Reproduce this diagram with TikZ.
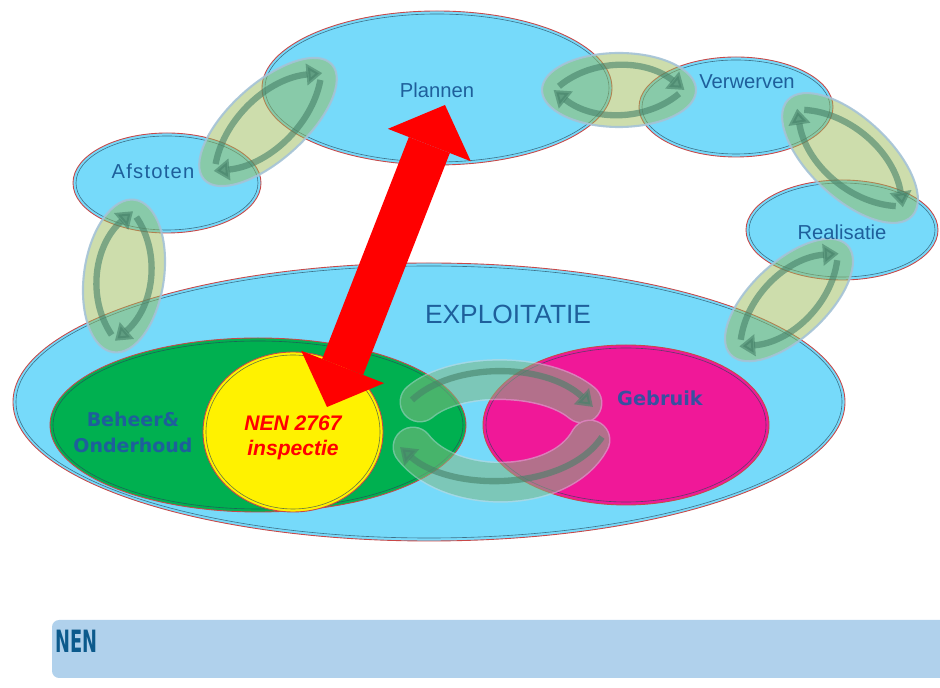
\documentclass[tikz,border=0pt]{standalone}
\usepackage{fontspec}
\usepackage{graphicx}
\setmainfont{Liberation Sans}
\newfontfamily\verdana{DejaVu Sans}
\newfontfamily\spaced{Liberation Sans}[LetterSpace=6]
\usetikzlibrary{arrows.meta}

\definecolor{sky}{RGB}{118,218,250}
\definecolor{edgered}{RGB}{200,72,72}
\definecolor{innerdark}{RGB}{40,70,90}
\definecolor{beheergreen}{RGB}{0,176,80}
\definecolor{gebruikpink}{RGB}{240,24,152}
\definecolor{labelblue}{RGB}{30,95,155}
\definecolor{gebruikblue}{RGB}{55,80,160}
\definecolor{linkgreen}{RGB}{155,187,89}
\definecolor{linkedge}{RGB}{165,195,215}
\definecolor{arrowgreen}{RGB}{70,130,105}
\definecolor{bandgreen}{RGB}{130,185,130}
\definecolor{bandedge}{RGB}{200,215,215}
\definecolor{nenbar}{RGB}{176,209,236}
\definecolor{nenblue}{RGB}{12,90,140}

\tikzset{
  blobline/.style={draw=edgered, line width=0.5pt},
  innerline/.style={draw=innerdark, line width=0.35pt, opacity=0.7},
  linkfill/.style={fill=linkgreen, fill opacity=0.5, draw=linkedge, draw opacity=0.9, line width=1.2pt},
  cyclearrow/.style={draw=arrowgreen, opacity=0.6, line width=3.6pt, -{Triangle[length=9pt,width=12pt]}},
  bandbody/.style={draw=bandgreen, line width=0.76cm, line cap=round,
    preaction={draw=bandedge, line width=0.82cm, line cap=round}},
  phase/.style={text=labelblue, font=\fontsize{11.5}{14}\selectfont},
  nenarrow/.style={draw=red, line width=0.88cm,
    {Triangle[length=0.86cm,width=1.78cm,line width=0pt]}-{Triangle[length=0.86cm,width=1.78cm,line width=0pt]}}
}

% filled phase ellipse with red rim and thin dark inner line
\newcommand{\blob}[5]{% name, centre, x radius, y radius, colour
  \filldraw[blobline, fill=#5] #2 ellipse [x radius=#3, y radius=#4];
  \draw[innerline] #2 ellipse [x radius=#3-3, y radius=#4-3];
  \coordinate (#1) at #2;}

% see-through ring between two phases, arrows both ways
\newcommand{\linkring}[4]{% centre, half length, half width, angle
  \begin{scope}[shift={#1}, rotate=#4]
    \filldraw[linkfill] (0,0) ellipse [x radius=#2, y radius=#3];
    \draw[cyclearrow] (-0.78*#2,-0.1*#3) .. controls (-0.35*#2,-0.85*#3) and (0.35*#2,-0.85*#3) .. (0.85*#2,0);
    \draw[cyclearrow] (0.78*#2,0.1*#3) .. controls (0.35*#2,0.85*#3) and (-0.35*#2,0.85*#3) .. (-0.85*#2,0);
  \end{scope}}

\begin{document}
\begin{tikzpicture}[x=0.02cm, y=-0.02cm]
\useasboundingbox (0,0) rectangle (940,688);

% phases
\blob{exploitatie}{(429,402)}{416}{139}{sky}
\blob{plannen}{(437,88)}{175}{77}{sky}
\blob{verwerven}{(736,107)}{97}{50}{sky}
\blob{realisatie}{(842,230)}{96}{50}{sky}
\blob{afstoten}{(167,183)}{94}{50}{sky}

% inside exploitatie
\blob{beheer}{(258,425)}{208}{87}{beheergreen}
\blob{gebruik}{(626,425)}{143}{80}{gebruikpink}
\blob{inspectie}{(293,432)}{90}{80}{yellow}

% links of the cycle
\linkring{(268,122)}{86}{38}{42}
\linkring{(619,90)}{77}{37}{0}
\linkring{(850,158)}{85}{40}{-43}
\linkring{(789,300)}{80}{38}{223}
\linkring{(124,276)}{77}{40}{82}

% beheer <-> gebruik
\begin{scope}[transparency group, opacity=0.55]
  \draw[bandbody] (420,402) .. controls (455,372) and (545,372) .. (582,403);
  \draw[bandbody] (413,447) .. controls (450,495) and (560,495) .. (590,440);
\end{scope}
\draw[cyclearrow] (412,400) .. controls (452,362) and (545,362) .. (593,407);
\draw[cyclearrow] (602,437) .. controls (565,492) and (450,492) .. (400,447);

% inspection feeds planning
\coordinate (inspend) at (327,407);
\coordinate (planend) at (445,105);
\draw[nenarrow] (inspend) -- (planend);

% labels
\node[phase] (plannentxt) at (437,90) {Plannen};
\node[phase] (verwerventxt) at (747,82) {Verwerven};
\node[phase] (realisatietxt) at (842,232) {Realisatie};
\node[phase, font=\spaced\fontsize{11.5}{14}\selectfont] (afstotentxt) at (153,171) {Afstoten};
\node[phase, font=\fontsize{15}{18}\selectfont] (exploitatietxt) at (508,314) {EXPLOITATIE};
\node[phase, align=center, font=\verdana\bfseries\fontsize{10.8}{14.8}\selectfont] (beheertxt) at (133,432) {Beheer\&\\Onderhoud};
\node[text=red, align=center, font=\bfseries\itshape\fontsize{12}{14.2}\selectfont] (inspectietxt) at (293,438) {NEN 2767\\inspectie};
\node[text=gebruikblue, font=\verdana\bfseries\fontsize{11}{13}\selectfont] (gebruiktxt) at (660,398) {Gebruik};

% footer bar
\fill[nenbar, rounded corners=4pt] (52,620) rectangle (960,678);
\node[anchor=west, inner sep=0pt, text=nenblue, font=\verdana\bfseries\fontsize{17.5}{20}\selectfont] (nen) at (55,641) {\scalebox{0.58}[1]{NEN}};
\end{tikzpicture}
\end{document}
